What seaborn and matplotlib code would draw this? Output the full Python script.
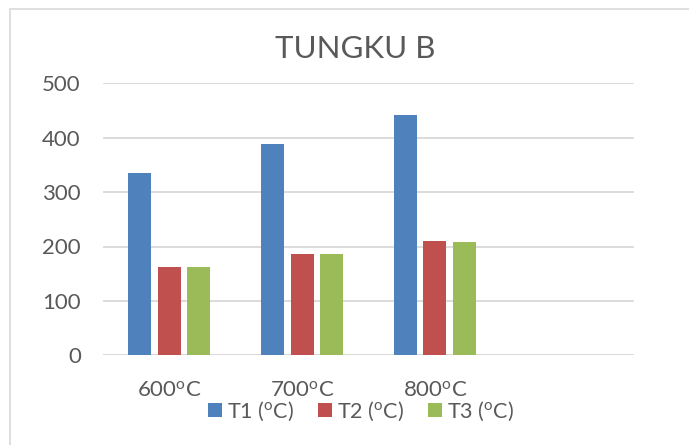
import matplotlib
matplotlib.use("Agg")
import matplotlib.pyplot as plt
import seaborn as sns
import pandas as pd
from matplotlib.patches import Rectangle, Patch

# Furnace B temperature readings
categories = ["600$^{\\mathregular{o}}$C", "700$^{\\mathregular{o}}$C", "800$^{\\mathregular{o}}$C"]
series = ["T1 ($^{\\mathregular{o}}$C)", "T2 ($^{\\mathregular{o}}$C)", "T3 ($^{\\mathregular{o}}$C)"]
t1 = [335, 389, 442]
t2 = [162, 186, 210]
t3 = [162, 186, 208]
colors = ["#4F81BD", "#C0504D", "#9BBB59"]
yticks = [0, 100, 200, 300, 400, 500]

rows = []
for name, vals in zip(series, [t1, t2, t3]):
    for cat, v in zip(categories, vals):
        rows.append({"kategori": cat, "seri": name, "nilai": v})
df = pd.DataFrame(rows)

sns.set_theme(style="white")
plt.rcParams["font.family"] = ["Lato", "DejaVu Sans"]
plt.rcParams["mathtext.default"] = "regular"
text_col = "#595959"
grid_col = "#D9D9D9"

fig = plt.figure(figsize=(6.89, 4.45), dpi=100)
fig.patches.append(Rectangle((10 / 689, -0.1), 1.2, 1 - 9 / 445 + 0.1,
                             transform=fig.transFigure, fill=False,
                             edgecolor="#D9D9D9", linewidth=1.2, zorder=0))
ax = fig.add_axes([103 / 689, 1 - 355.3 / 445, (634 - 103) / 689, (355.3 - 83.3) / 445])

order = categories + [""]
sns.barplot(data=df, x="kategori", y="nilai", hue="seri", order=order,
            hue_order=series, palette=colors, width=0.666, gap=0.22,
            saturation=1, linewidth=0, ax=ax, legend=False, zorder=3)

ax.set_ylim(0, 500)
ax.set_xlim(-0.5, 3.5)
ax.set_yticks(yticks)
ax.set_yticklabels([str(v) for v in yticks])
ax.yaxis.grid(True, color=grid_col, linewidth=1.3, zorder=0)
ax.set_axisbelow(True)
for s in ax.spines.values():
    s.set_visible(False)
ax.axhline(0, color=grid_col, linewidth=1.3, zorder=1)
ax.tick_params(axis="y", length=0, pad=16, labelsize=16, labelcolor=text_col)
ax.tick_params(axis="x", length=0, pad=18, labelsize=16, labelcolor=text_col)
ax.set_xlabel("")
ax.set_ylabel("")

fig.text(355 / 689, 1 - 49.5 / 445, "TUNGKU B", ha="center", va="center",
         fontsize=22.5, color=text_col)

handles = [Patch(facecolor=c, edgecolor="none") for c in colors]
fig.legend(handles, series, loc="center", bbox_to_anchor=(361 / 689, 1 - 411 / 445),
           ncol=3, frameon=False, fontsize=15.5, labelcolor=text_col,
           handlelength=0.65, handleheight=0.65, handletextpad=0.25,
           columnspacing=1.1, borderpad=0)

fig.savefig("out.png", dpi=100)
